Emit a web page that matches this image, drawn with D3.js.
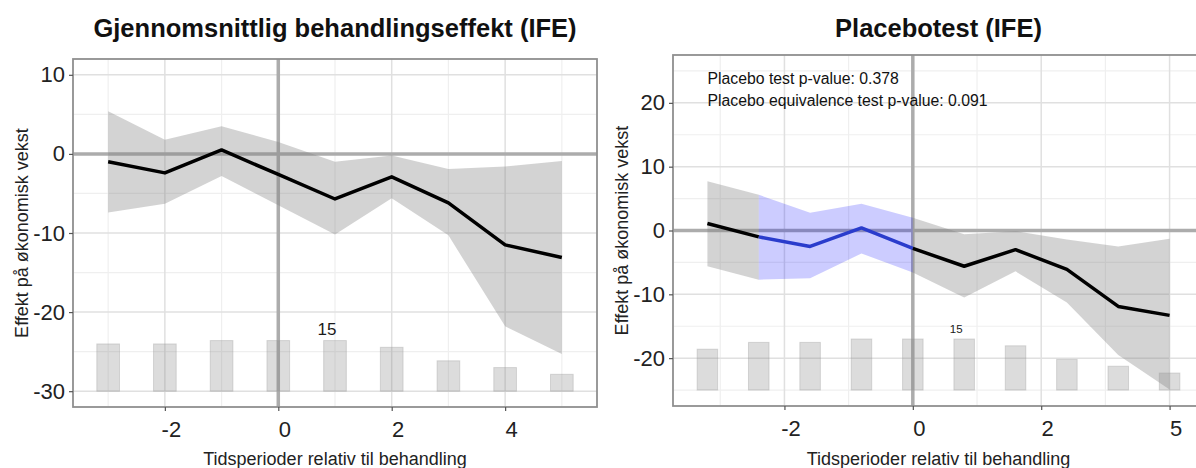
<!DOCTYPE html>
<html>
<head>
<meta charset="utf-8">
<script src="https://cdn.jsdelivr.net/npm/d3@7"></script>
<style>
  body { margin: 0; background: #fff; }
  svg { display: block; }
  text { font-family: "Liberation Sans", Arial, Helvetica, sans-serif; }
</style>
</head>
<body>
<svg id="chart" width="1196" height="468"></svg>
<script>
// ---- Average treatment effect (IFE) ----
const attPeriods  = [-3, -2, -1, 0, 1, 2, 3, 4, 5];
const attEstimate = [-1.0, -2.4, 0.5, -2.6, -5.7, -2.9, -6.2, -11.5, -13.1];
const attUpper    = [5.4, 1.8, 3.5, 1.5, -1.0, -0.2, -1.9, -1.6, -0.9];
const attLower    = [-7.4, -6.3, -2.8, -6.5, -10.2, -5.6, -10.3, -21.8, -25.3];
const attCount    = [14, 14, 15, 15, 15, 13, 9, 7, 5];
const attYLim     = [-30, 10];
const attYTicks   = [-30, -20, -10, 0, 10];
const attXTicks   = [-2, 0, 2, 4];
const attXLabels  = ["-2", "0", "2", "4"];

// ---- Placebo test (IFE) ----
const plcPeriods  = [-4, -3, -2, -1, 0, 1, 2, 3, 4, 5];
const plcEstimate = [1.1, -1.0, -2.5, 0.4, -2.8, -5.6, -3.0, -6.1, -11.9, -13.3];
const plcUpper    = [7.7, 5.6, 2.8, 4.2, 2.0, -0.6, -0.1, -1.4, -2.5, -1.3];
const plcLower    = [-5.6, -7.7, -7.5, -3.6, -6.6, -10.5, -6.4, -11.3, -19.5, -24.9];
const plcCount    = [12, 14, 14, 15, 15, 15, 13, 9, 7, 5];
const plcWindow   = [-3, 0];            // placebo periods, drawn in blue
const plcYLim     = [-25, 25];
const plcYTicks   = [-20, -10, 0, 10, 20];
const plcXTicks   = [-2.5, 0, 2.5, 5];
const plcXLabels  = ["-2", "0", "2", "5"];
const plcNotes    = ["Placebo test p-value: 0.378", "Placebo equivalence test p-value: 0.091"];

const xTitle = "Tidsperioder relativ til behandling";
const yTitle = "Effekt på økonomisk vekst";

const svg = d3.select("#chart");

const BAR_W = 0.4;          // bar width in period units
const BAR_FRAC = 0.16;      // tallest count bar as share of y-limits range
const EXPAND = 0.05;

function expand([a, b]) { const d = (b - a) * EXPAND; return [a - d, b + d]; }
function minorsOf(ticks, domain) {
  const step = ticks[1] - ticks[0];
  const out = [];
  for (let v = ticks[0] - step / 2; v <= domain[1]; v += step) if (v >= domain[0]) out.push(v);
  return out;
}

function drawPanel(cfg) {
  const { box } = cfg;
  const g = svg.append("g");
  const rows = cfg.periods.map((p, i) => ({ p, est: cfg.est[i], up: cfg.up[i], lo: cfg.lo[i], n: cfg.count[i] }));

  const xDom = expand([d3.min(cfg.periods) - BAR_W / 2, d3.max(cfg.periods) + BAR_W / 2]);
  const yDom = expand(cfg.ylim);
  const x = d3.scaleLinear().domain(xDom).range([box.x0, box.x1]);
  const y = d3.scaleLinear().domain(yDom).range([box.y1, box.y0]);

  // background grid
  const grid = g.append("g");
  grid.selectAll(".gxm").data(minorsOf(cfg.xTicks, xDom)).join("line")
    .attr("x1", d => x(d)).attr("x2", d => x(d)).attr("y1", box.y0).attr("y2", box.y1)
    .attr("stroke", "#efefef").attr("stroke-width", 1.2);
  grid.selectAll(".gym").data(minorsOf(cfg.yTicks, yDom)).join("line")
    .attr("y1", d => y(d)).attr("y2", d => y(d)).attr("x1", box.x0).attr("x2", box.x1)
    .attr("stroke", "#efefef").attr("stroke-width", 1.2);
  grid.selectAll(".gx").data(cfg.xTicks).join("line")
    .attr("x1", d => x(d)).attr("x2", d => x(d)).attr("y1", box.y0).attr("y2", box.y1)
    .attr("stroke", "#e0e0e0").attr("stroke-width", 1.5);
  grid.selectAll(".gy").data(cfg.yTicks).join("line")
    .attr("y1", d => y(d)).attr("y2", d => y(d)).attr("x1", box.x0).attr("x2", box.x1)
    .attr("stroke", "#e0e0e0").attr("stroke-width", 1.5);

  // reference lines at zero
  g.append("line").attr("x1", box.x0).attr("x2", box.x1).attr("y1", y(0)).attr("y2", y(0))
    .attr("stroke", "#acacac").attr("stroke-width", 3.5);
  g.append("line").attr("x1", x(0)).attr("x2", x(0)).attr("y1", box.y0).attr("y2", box.y1)
    .attr("stroke", "#acacac").attr("stroke-width", 3.5);

  // confidence bands
  const area = d3.area().x(d => x(d.p)).y0(d => y(d.lo)).y1(d => y(d.up));
  const line = d3.line().x(d => x(d.p)).y(d => y(d.est));
  const inWin = d => cfg.window && d.p >= cfg.window[0] && d.p <= cfg.window[1];
  const segs = [];
  if (cfg.window) {
    segs.push({ rows: rows.filter(d => d.p <= cfg.window[0]), blue: false });
    segs.push({ rows: rows.filter(inWin), blue: true });
    segs.push({ rows: rows.filter(d => d.p >= cfg.window[1]), blue: false });
  } else {
    segs.push({ rows, blue: false });
  }
  segs.forEach(s => {
    g.append("path").attr("d", area(s.rows))
      .attr("fill", s.blue ? "#0000ff" : "#808080")
      .attr("fill-opacity", s.blue ? 0.2 : 0.35);
  });

  // treated-unit counts
  const base = cfg.ylim[0];
  const hUnit = BAR_FRAC * (cfg.ylim[1] - cfg.ylim[0]) / d3.max(cfg.count);
  g.selectAll(".bar").data(rows).join("rect")
    .attr("x", d => x(d.p - BAR_W / 2))
    .attr("width", d => x(d.p + BAR_W / 2) - x(d.p - BAR_W / 2))
    .attr("y", d => y(base + d.n * hUnit))
    .attr("height", d => y(base) - y(base + d.n * hUnit))
    .attr("fill", "#808080").attr("fill-opacity", 0.28)
    .attr("stroke", "#9a9a9a").attr("stroke-opacity", 0.35).attr("stroke-width", 1);
  const maxN = d3.max(cfg.count);
  const top = rows.filter(d => d.n === maxN).pop();
  g.append("text")
    .attr("x", x(top.p) - 8).attr("y", y(base + top.n * hUnit) - 6)
    .attr("text-anchor", "middle").attr("font-size", cfg.countFont)
    .attr("fill", "#1a1a1a").text(top.n);

  // estimate line
  segs.forEach(s => {
    g.append("path").attr("d", line(s.rows)).attr("fill", "none")
      .attr("stroke", s.blue ? "#2a3ccc" : "#000").attr("stroke-width", 3.5)
      .attr("stroke-linejoin", "round");
  });

  // notes
  if (cfg.notes) {
    cfg.notes.forEach((t, i) => {
      g.append("text").attr("x", x(cfg.periods[0])).attr("y", 84 + i * 22)
        .attr("font-size", 15.8).attr("fill", "#111").text(t);
    });
  }

  // panel border
  g.append("rect").attr("x", box.x0).attr("y", box.y0)
    .attr("width", box.x1 - box.x0).attr("height", box.y1 - box.y0)
    .attr("fill", "none").attr("stroke", "#8f8f8f").attr("stroke-width", 1.8);

  // axes
  const xAxis = g.append("g").attr("transform", `translate(0,${box.y1})`)
    .call(d3.axisBottom(x).tickValues(cfg.xTicks).tickSize(4).tickPadding(10)
      .tickFormat((d, i) => cfg.xLabels[i]));
  const yAxis = g.append("g").attr("transform", `translate(${box.x0},0)`)
    .call(d3.axisLeft(y).tickValues(cfg.yTicks).tickSize(4).tickPadding(4)
      .tickFormat(d => String(d)));
  [xAxis, yAxis].forEach(a => {
    a.select(".domain").remove();
    a.selectAll(".tick line").attr("stroke", "#555").attr("stroke-width", 1.2);
    a.selectAll(".tick text").attr("font-size", 22).attr("fill", "#222")
      .attr("font-family", "\"Liberation Sans\", Arial, sans-serif");
  });
  xAxis.selectAll(".tick text").attr("dx", 6).attr("dy", "0.71em");

  // titles
  const cx = (box.x0 + Math.min(box.x1, 1204)) / 2;
  g.append("text").attr("x", cx).attr("y", 37).attr("text-anchor", "middle")
    .attr("font-size", 25.5).attr("font-weight", "bold").attr("fill", "#111").text(cfg.title);
  g.append("text").attr("x", cx).attr("y", 464.5).attr("text-anchor", "middle")
    .attr("font-size", 18).attr("fill", "#222").text(xTitle);
  const cy = (box.y0 + box.y1) / 2;
  g.append("text").attr("transform", `translate(${cfg.yTitleX},${cy}) rotate(-90)`)
    .attr("text-anchor", "middle").attr("font-size", 18).attr("fill", "#222").text(yTitle);
}

drawPanel({
  box: { x0: 73, x1: 597, y0: 59, y1: 407 },
  periods: attPeriods, est: attEstimate, up: attUpper, lo: attLower, count: attCount,
  ylim: attYLim, yTicks: attYTicks, xTicks: attXTicks, xLabels: attXLabels,
  title: "Gjennomsnittlig behandlingseffekt (IFE)", countFont: 17, yTitleX: 27.5
});

drawPanel({
  box: { x0: 673, x1: 1204, y0: 55, y1: 406 },
  periods: plcPeriods, est: plcEstimate, up: plcUpper, lo: plcLower, count: plcCount,
  window: plcWindow, notes: plcNotes,
  ylim: plcYLim, yTicks: plcYTicks, xTicks: plcXTicks, xLabels: plcXLabels,
  title: "Placebotest (IFE)", countFont: 11.5, yTitleX: 627.5
});
</script>
</body>
</html>
